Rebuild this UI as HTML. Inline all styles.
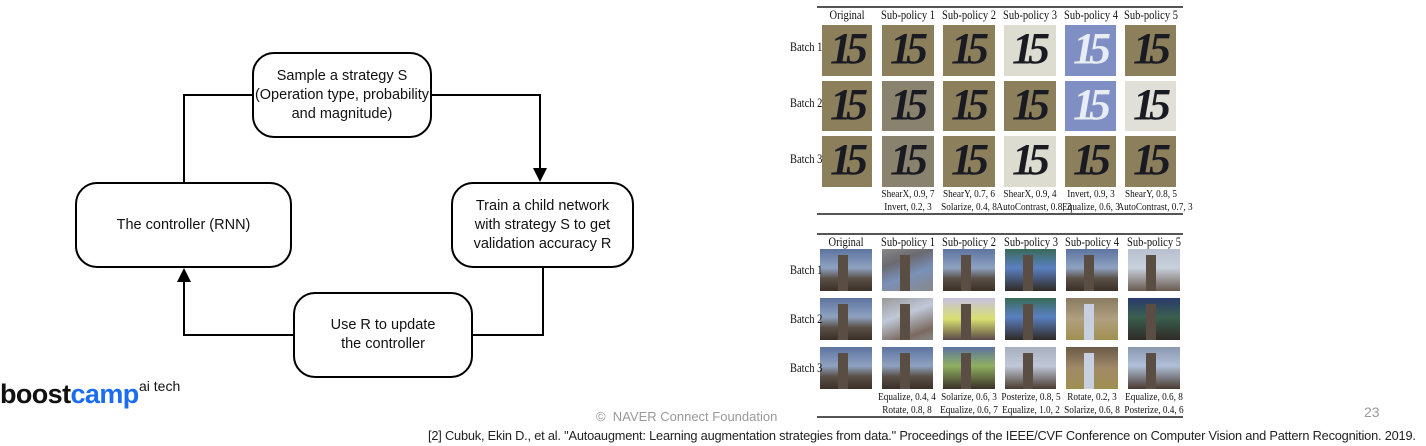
<!DOCTYPE html>
<html><head><meta charset="utf-8"><style>
*{margin:0;padding:0;box-sizing:border-box}
body{width:1426px;height:446px;background:#fff;position:relative;overflow:hidden;font-family:"Liberation Sans",sans-serif}
.a{position:absolute}
.box{position:absolute;border:2px solid #000;border-radius:22px;background:#fff;display:flex;align-items:center;justify-content:center;text-align:center;font-size:14.5px;line-height:19px;color:#111}
.ln{position:absolute;background:#000}
.s{font-family:"Liberation Serif",serif;font-size:11px;color:#111;position:absolute;text-align:center;white-space:nowrap;transform:scaleX(0.84);z-index:2}
.h{font-size:12.5px}
.b{font-family:"Liberation Serif",serif;font-size:12.5px;color:#111;position:absolute;white-space:nowrap;transform:scaleX(0.84);transform-origin:left center;z-index:2}
.d{position:absolute;background:#8c7f5c;overflow:hidden}
.d span{position:absolute;left:8px;top:-2px;font-family:"Liberation Serif",serif;font-style:italic;font-weight:bold;font-size:44px;color:#1a1a22;letter-spacing:-6px}
.c{position:absolute;background:linear-gradient(180deg,#5d74a0 0%,#8fa2c0 45%,#5a5048 70%,#3a3028 100%);overflow:hidden}
.c i{position:absolute;left:18px;top:6px;width:10px;height:36px;background:#5a4e44}
.rule{position:absolute;height:2px;background:#555}
</style></head><body>

<div class="box" style="left:252px;top:52px;width:180px;height:86px">Sample a strategy S<br>(Operation type, probability<br>and magnitude)</div>
<div class="box" style="left:75px;top:182px;width:217px;height:86px">The controller (RNN)</div>
<div class="box" style="left:451px;top:182px;width:183px;height:86px">Train a child network<br>with strategy S to get<br>validation accuracy R</div>
<div class="box" style="left:293px;top:292px;width:180px;height:86px">Use R to update<br>the controller</div>

<div class="ln" style="left:183px;top:94px;width:2px;height:88px"></div>
<div class="ln" style="left:183px;top:94px;width:69px;height:2px"></div>
<div class="ln" style="left:432px;top:94px;width:109px;height:2px"></div>
<div class="ln" style="left:539px;top:94px;width:2px;height:78px"></div>
<svg class="a" style="left:533px;top:168px" width="14" height="14"><polygon points="0,0 14,0 7,14" fill="#000"/></svg>
<div class="ln" style="left:542px;top:268px;width:2px;height:68px"></div>
<div class="ln" style="left:473px;top:334px;width:71px;height:2px"></div>
<div class="ln" style="left:183px;top:334px;width:110px;height:2px"></div>
<div class="ln" style="left:183px;top:280px;width:2px;height:56px"></div>
<svg class="a" style="left:177px;top:268px" width="14" height="14"><polygon points="7,0 14,14 0,14" fill="#000"/></svg>

<div class="a" style="left:0;top:379px;font-size:27px;font-weight:bold;letter-spacing:-0.6px;color:#111">boost<span style="color:#1a6cf0">camp</span></div>
<div class="a" style="left:139px;top:378px;font-size:14px;color:#111">ai tech</div>

<div class="a" style="left:596px;top:409px;width:192px;overflow:hidden;white-space:nowrap;font-size:13px;color:#999">©&nbsp; NAVER Connect Foundation</div>
<div class="a" style="left:1364px;top:404px;font-size:14px;color:#999">23</div>
<div class="a" style="left:428px;top:428px;white-space:nowrap;font-size:12.8px;color:#222;letter-spacing:-0.2px">[2] Cubuk, Ekin D., et al. "Autoaugment: Learning augmentation strategies from data." Proceedings of the IEEE/CVF Conference on Computer Vision and Pattern Recognition. 2019.</div>

<!-- top table -->
<div class="rule" style="left:817px;top:6px;width:366px"></div>
<div class="rule" style="left:817px;top:213px;width:366px"></div>
<div class="s h" style="left:822px;top:8px;width:50px">Original</div>
<div class="s h" style="left:873px;top:8px;width:70px">Sub-policy 1</div>
<div class="s h" style="left:934px;top:8px;width:70px">Sub-policy 2</div>
<div class="s h" style="left:995px;top:8px;width:70px">Sub-policy 3</div>
<div class="s h" style="left:1056px;top:8px;width:70px">Sub-policy 4</div>
<div class="s h" style="left:1116px;top:8px;width:70px">Sub-policy 5</div>
<div class="b" style="left:790px;top:40px">Batch 1</div>
<div class="b" style="left:790px;top:96px">Batch 2</div>
<div class="b" style="left:790px;top:152px">Batch 3</div>

<div class="d" style="left:822px;top:25px;width:50px;height:51px"><span>15</span></div>
<div class="d" style="left:882px;top:25px;width:52px;height:51px"><span>15</span></div>
<div class="d" style="left:943px;top:25px;width:52px;height:51px"><span>15</span></div>
<div class="d" style="left:1004px;top:25px;width:52px;height:51px;background:#dcdcd0"><span>15</span></div>
<div class="d" style="left:1065px;top:25px;width:51px;height:51px;background:#7f8fc4"><span style="color:#e8ecf4">15</span></div>
<div class="d" style="left:1125px;top:25px;width:51px;height:51px"><span>15</span></div>

<div class="d" style="left:822px;top:81px;width:50px;height:50px"><span>15</span></div>
<div class="d" style="left:882px;top:81px;width:52px;height:50px;background:#88826e"><span>15</span></div>
<div class="d" style="left:943px;top:81px;width:52px;height:50px"><span>15</span></div>
<div class="d" style="left:1004px;top:81px;width:52px;height:50px"><span>15</span></div>
<div class="d" style="left:1065px;top:81px;width:51px;height:50px;background:#7f8fc4"><span style="color:#e8ecf4">15</span></div>
<div class="d" style="left:1125px;top:81px;width:51px;height:50px;background:#e0e0d8"><span>15</span></div>

<div class="d" style="left:822px;top:136px;width:50px;height:51px"><span>15</span></div>
<div class="d" style="left:882px;top:136px;width:52px;height:51px;background:#88826e"><span>15</span></div>
<div class="d" style="left:943px;top:136px;width:52px;height:51px"><span>15</span></div>
<div class="d" style="left:1004px;top:136px;width:52px;height:51px;background:#dcdcd0"><span>15</span></div>
<div class="d" style="left:1065px;top:136px;width:51px;height:51px"><span>15</span></div>
<div class="d" style="left:1125px;top:136px;width:51px;height:51px"><span>15</span></div>

<div class="s" style="left:868px;top:188px;width:80px;line-height:12.5px">ShearX, 0.9, 7<br>Invert, 0.2, 3</div>
<div class="s" style="left:929px;top:188px;width:80px;line-height:12.5px">ShearY, 0.7, 6<br>Solarize, 0.4, 8</div>
<div class="s" style="left:990px;top:188px;width:80px;line-height:12.5px">ShearX, 0.9, 4<br>AutoContrast, 0.8, 3</div>
<div class="s" style="left:1051px;top:188px;width:80px;line-height:12.5px">Invert, 0.9, 3<br>Equalize, 0.6, 3</div>
<div class="s" style="left:1111px;top:188px;width:80px;line-height:12.5px">ShearY, 0.8, 5<br>AutoContrast, 0.7, 3</div>

<!-- bottom table -->
<div class="rule" style="left:817px;top:233px;width:366px"></div>
<div class="rule" style="left:817px;top:416px;width:366px"></div>
<div class="s h" style="left:821px;top:235px;width:50px">Original</div>
<div class="s h" style="left:873px;top:235px;width:70px">Sub-policy 1</div>
<div class="s h" style="left:934px;top:235px;width:70px">Sub-policy 2</div>
<div class="s h" style="left:996px;top:235px;width:70px">Sub-policy 3</div>
<div class="s h" style="left:1057px;top:235px;width:70px">Sub-policy 4</div>
<div class="s h" style="left:1119px;top:235px;width:70px">Sub-policy 5</div>
<div class="b" style="left:790px;top:263px">Batch 1</div>
<div class="b" style="left:790px;top:312px">Batch 2</div>
<div class="b" style="left:790px;top:361px">Batch 3</div>

<div class="c" style="left:820px;top:249px;width:52px;height:42px"><i></i></div>
<div class="c" style="left:882px;top:249px;width:51px;height:42px;background:linear-gradient(160deg,#888 0%,#6a6a70 30%,#7a90b8 60%,#888 100%)"><i></i></div>
<div class="c" style="left:943px;top:249px;width:52px;height:42px"><i></i></div>
<div class="c" style="left:1005px;top:249px;width:51px;height:42px;background:linear-gradient(180deg,#3a6a5a 0%,#5a80c0 45%,#302a26 100%)"><i></i></div>
<div class="c" style="left:1066px;top:249px;width:52px;height:42px"><i></i></div>
<div class="c" style="left:1128px;top:249px;width:52px;height:42px;background:linear-gradient(180deg,#b8c0d0 0%,#c8d0dc 45%,#6a5a50 100%)"><i></i></div>

<div class="c" style="left:820px;top:298px;width:52px;height:42px"><i></i></div>
<div class="c" style="left:882px;top:298px;width:51px;height:42px;background:linear-gradient(160deg,#999 0%,#c0c8d8 40%,#7a6a60 80%,#888 100%)"><i></i></div>
<div class="c" style="left:943px;top:298px;width:52px;height:42px;background:linear-gradient(180deg,#c8c0e0 0%,#d8e070 50%,#5a4a48 100%)"><i></i></div>
<div class="c" style="left:1005px;top:298px;width:51px;height:42px;background:linear-gradient(180deg,#3a6a5a 0%,#5a80c0 45%,#302a26 100%)"><i></i></div>
<div class="c" style="left:1066px;top:298px;width:52px;height:42px;background:linear-gradient(180deg,#8a7a60 0%,#b0a080 50%,#a09050 100%)"><i style="background:#c8d0e0"></i></div>
<div class="c" style="left:1128px;top:298px;width:52px;height:42px;background:linear-gradient(180deg,#2a3a6a 0%,#3a6050 45%,#302a26 100%)"><i></i></div>

<div class="c" style="left:820px;top:347px;width:52px;height:42px"><i></i></div>
<div class="c" style="left:882px;top:347px;width:51px;height:42px"><i></i></div>
<div class="c" style="left:943px;top:347px;width:52px;height:42px;background:linear-gradient(180deg,#5d74a0 0%,#90b060 45%,#3a3028 100%)"><i></i></div>
<div class="c" style="left:1005px;top:347px;width:51px;height:42px;background:linear-gradient(180deg,#a8b0c0 0%,#c0c8d8 45%,#4a3a30 100%)"><i></i></div>
<div class="c" style="left:1066px;top:347px;width:52px;height:42px;background:linear-gradient(180deg,#6a5a48 0%,#a08a68 50%,#a09050 100%)"><i style="background:#c8d0e0"></i></div>
<div class="c" style="left:1128px;top:347px;width:52px;height:42px;background:linear-gradient(180deg,#8a98b0 0%,#b0c0d8 45%,#4a3a30 100%)"><i></i></div>

<div class="s" style="left:867px;top:391px;width:80px;line-height:12.5px">Equalize, 0.4, 4<br>Rotate, 0.8, 8</div>
<div class="s" style="left:929px;top:391px;width:80px;line-height:12.5px">Solarize, 0.6, 3<br>Equalize, 0.6, 7</div>
<div class="s" style="left:991px;top:391px;width:80px;line-height:12.5px">Posterize, 0.8, 5<br>Equalize, 1.0, 2</div>
<div class="s" style="left:1052px;top:391px;width:80px;line-height:12.5px">Rotate, 0.2, 3<br>Solarize, 0.6, 8</div>
<div class="s" style="left:1114px;top:391px;width:80px;line-height:12.5px">Equalize, 0.6, 8<br>Posterize, 0.4, 6</div>
</body></html>
